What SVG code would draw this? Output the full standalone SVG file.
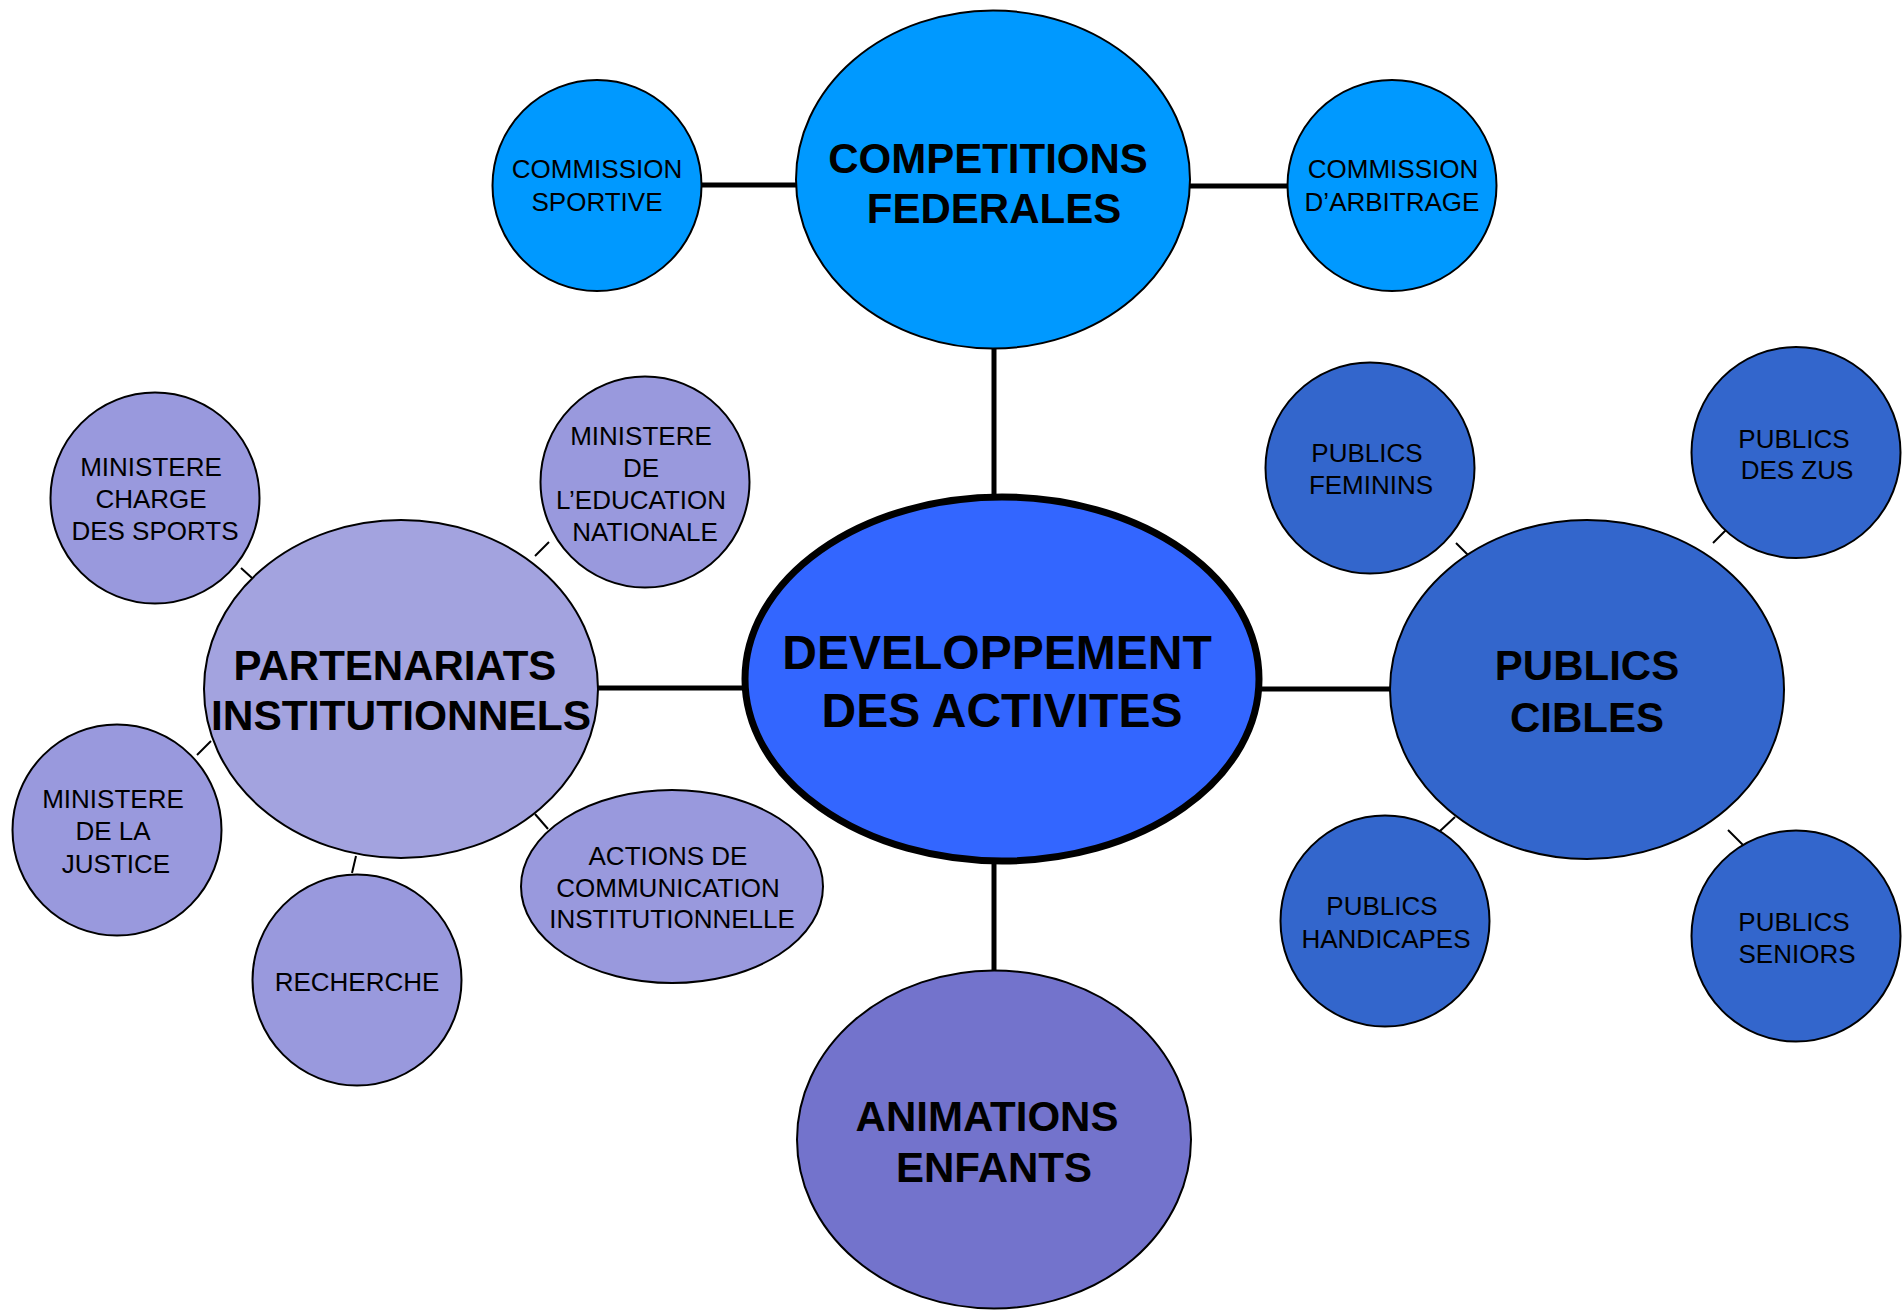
<svg xmlns="http://www.w3.org/2000/svg" width="1902" height="1310" viewBox="0 0 1902 1310">
<style>
.n{stroke:#000;stroke-width:2}
.big{font-family:"Liberation Sans",Arial,sans-serif;font-weight:bold;font-size:42px;text-anchor:middle;fill:#000}
.ctr{font-family:"Liberation Sans",Arial,sans-serif;font-weight:bold;font-size:48px;text-anchor:middle;fill:#000}
.sm{font-family:"Liberation Sans",Arial,sans-serif;font-size:26px;text-anchor:middle;fill:#000}
.c{stroke:#000;stroke-width:5;fill:none}
.s{stroke:#000;stroke-width:2;fill:none}
.blue{fill:#0099FF}
.lav{fill:#9999DD}
.pub{fill:#3366CC}
</style>
<rect width="1902" height="1310" fill="#fff"/>
<g id="connectors">
<line class="c" x1="700" y1="185" x2="799" y2="185"/>
<line class="c" x1="1188" y1="186" x2="1289" y2="186"/>
<line class="c" x1="994" y1="347" x2="994" y2="499"/>
<line class="c" x1="597" y1="688" x2="748" y2="688"/>
<line class="c" x1="1256" y1="689" x2="1392" y2="689"/>
<line class="c" x1="994" y1="860" x2="994" y2="972"/>
<line class="s" x1="241" y1="568" x2="252" y2="578"/>
<line class="s" x1="535" y1="556" x2="549" y2="542"/>
<line class="s" x1="197" y1="755" x2="211" y2="741"/>
<line class="s" x1="352" y1="873" x2="356" y2="856"/>
<line class="s" x1="535" y1="814" x2="548" y2="829"/>
<line class="s" x1="1456" y1="543" x2="1471" y2="558"/>
<line class="s" x1="1713" y1="543" x2="1728" y2="528"/>
<line class="s" x1="1440" y1="831" x2="1455" y2="817"/>
<line class="s" x1="1728" y1="830" x2="1743" y2="845"/>
</g>
<g id="competitions">
<ellipse class="n blue" cx="993" cy="179.5" rx="197" ry="169"/>
<text class="big" x="988" y="173">COMPETITIONS</text>
<text class="big" x="994" y="223">FEDERALES</text>
</g>
<g id="commission-sportive">
<ellipse class="n blue" cx="597" cy="185.5" rx="104.5" ry="105.5"/>
<text class="sm" x="597" y="178">COMMISSION</text>
<text class="sm" x="597" y="211">SPORTIVE</text>
</g>
<g id="commission-arbitrage">
<ellipse class="n blue" cx="1392" cy="185.5" rx="104.5" ry="105.5"/>
<text class="sm" x="1393" y="178">COMMISSION</text>
<text class="sm" x="1392" y="211">D’ARBITRAGE</text>
</g>
<g id="developpement">
<ellipse cx="1002" cy="679" rx="257" ry="182" fill="#3366FF" stroke="#000" stroke-width="7"/>
<text class="ctr" x="997" y="669">DEVELOPPEMENT</text>
<text class="ctr" x="1002" y="727">DES ACTIVITES</text>
</g>
<g id="partenariats">
<ellipse class="n" fill="#A3A3DF" cx="401" cy="689" rx="197" ry="169"/>
<text class="big" x="395" y="680">PARTENARIATS</text>
<text class="big" x="401" y="730" textLength="380" lengthAdjust="spacingAndGlyphs">INSTITUTIONNELS</text>
</g>
<g id="ministere-sports">
<ellipse class="n lav" cx="155" cy="498" rx="104.5" ry="105.5"/>
<text class="sm" x="151" y="476">MINISTERE</text>
<text class="sm" x="151" y="508">CHARGE</text>
<text class="sm" x="155" y="540">DES SPORTS</text>
</g>
<g id="ministere-education">
<ellipse class="n lav" cx="645" cy="482" rx="104.5" ry="105.5"/>
<text class="sm" x="641" y="445">MINISTERE</text>
<text class="sm" x="641" y="477">DE</text>
<text class="sm" x="641" y="509">L’EDUCATION</text>
<text class="sm" x="645" y="541">NATIONALE</text>
</g>
<g id="ministere-justice">
<ellipse class="n lav" cx="117" cy="830" rx="104.5" ry="105.5"/>
<text class="sm" x="113" y="808">MINISTERE</text>
<text class="sm" x="113" y="840">DE LA</text>
<text class="sm" x="116" y="873">JUSTICE</text>
</g>
<g id="recherche">
<ellipse class="n lav" cx="357" cy="980" rx="104.5" ry="105.5"/>
<text class="sm" x="357" y="991">RECHERCHE</text>
</g>
<g id="actions-communication">
<ellipse class="n lav" cx="672" cy="886.5" rx="151" ry="96.5"/>
<text class="sm" x="668" y="865">ACTIONS DE</text>
<text class="sm" x="668" y="897">COMMUNICATION</text>
<text class="sm" x="672" y="928">INSTITUTIONNELLE</text>
</g>
<g id="animations">
<ellipse class="n" fill="#7373CC" cx="994" cy="1139.5" rx="197" ry="169"/>
<text class="big" x="987" y="1131">ANIMATIONS</text>
<text class="big" x="994" y="1182">ENFANTS</text>
</g>
<g id="publics-cibles">
<ellipse class="n pub" cx="1587" cy="689.5" rx="197" ry="169.5"/>
<text class="big" x="1587" y="680">PUBLICS</text>
<text class="big" x="1587" y="732">CIBLES</text>
</g>
<g id="publics-feminins">
<ellipse class="n pub" cx="1370" cy="468" rx="104.5" ry="105.5"/>
<text class="sm" x="1367" y="462">PUBLICS</text>
<text class="sm" x="1371" y="494">FEMININS</text>
</g>
<g id="publics-zus">
<ellipse class="n pub" cx="1796" cy="452.5" rx="104.5" ry="105.5"/>
<text class="sm" x="1794" y="448">PUBLICS</text>
<text class="sm" x="1797" y="479">DES ZUS</text>
</g>
<g id="publics-handicapes">
<ellipse class="n pub" cx="1385" cy="921" rx="104.5" ry="105.5"/>
<text class="sm" x="1382" y="915">PUBLICS</text>
<text class="sm" x="1386" y="948">HANDICAPES</text>
</g>
<g id="publics-seniors">
<ellipse class="n pub" cx="1796" cy="936" rx="104.5" ry="105.5"/>
<text class="sm" x="1794" y="931">PUBLICS</text>
<text class="sm" x="1797" y="963">SENIORS</text>
</g>
</svg>
